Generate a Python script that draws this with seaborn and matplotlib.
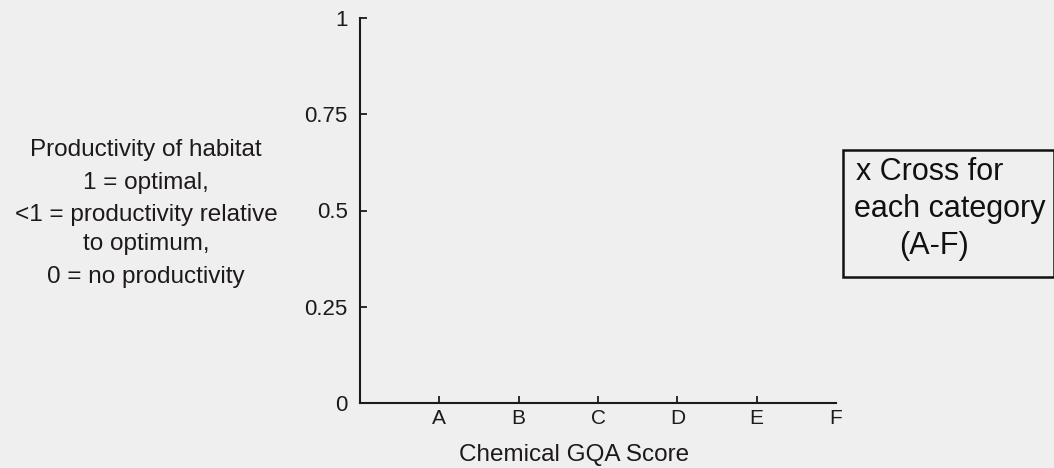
import matplotlib
matplotlib.use("Agg")
import matplotlib.pyplot as plt
from matplotlib.patches import Rectangle
import seaborn as sns
import pandas as pd

# Categories on the x axis and productivity ticks on the y axis
categories = ["A", "B", "C", "D", "E", "F"]
cat_positions = [1, 2, 3, 4, 5, 6]
y_ticks = [0, 0.25, 0.5, 0.75, 1]
y_tick_labels = ["0", "0.25", "0.5", "0.75", "1"]
# Productivity values are left blank for the reader to mark
productivity = [None, None, None, None, None, None]

sns.set_style("ticks")
plt.rcParams["font.family"] = ["Liberation Sans", "DejaVu Sans"]

bg = "#efefef"
ink = "#1e191b"

fig = plt.figure(figsize=(10.54, 4.68), dpi=100, facecolor=bg)
ax = fig.add_axes([360 / 1054, 65 / 468, 476 / 1054, 385 / 468])
ax.set_facecolor(bg)

df = pd.DataFrame({"pos": cat_positions, "score": categories,
                   "productivity": pd.Series(productivity, dtype=float)})
sns.scatterplot(data=df, x="pos", y="productivity", marker="x", color=ink, ax=ax)

ax.set_xlim(0, 6)
ax.set_ylim(0, 1)
ax.set_xticks(cat_positions)
ax.set_xticklabels(categories, fontsize=15, color=ink)
ax.set_yticks(y_ticks)
ax.set_yticklabels(y_tick_labels, fontsize=16, color=ink)
ax.tick_params(axis="both", direction="in", length=5, width=1.3, color=ink, pad=9)
ax.tick_params(axis="x", pad=4)
# The last category sits at the end of the axis without a tick mark
ax.xaxis.get_major_ticks()[-1].tick1line.set_visible(False)
ax.set_xlabel("")
ax.set_ylabel("")
sns.despine(ax=ax)
for side in ("left", "bottom"):
    ax.spines[side].set_color(ink)
    ax.spines[side].set_linewidth(1.5)

fig.text(574 / 1054, 1 - 455 / 468, "Chemical GQA Score", ha="center", va="center",
         fontsize=17.5, color=ink)

ylabel_lines = ["Productivity of habitat", "1 = optimal,", "<1 = productivity relative",
                "to optimum,", "0 = no productivity"]
ylabel_y = [150, 183, 215, 244, 277]
for line, yy in zip(ylabel_lines, ylabel_y):
    fig.text(146 / 1054, 1 - yy / 468, line, ha="center", va="center",
             fontsize=17.5, color=ink)

# Instruction box on the right
fig.patches.append(Rectangle((843 / 1054, 1 - 277 / 468), 0.2, 127 / 468,
                             transform=fig.transFigure, facecolor="none",
                             edgecolor="#111111", linewidth=1.8))
fig.text(856 / 1054, 1 - 172 / 468, "x Cross for", ha="left", va="center",
         fontsize=22, color="#111111")
fig.text(854 / 1054, 1 - 209 / 468, "each category", ha="left", va="center",
         fontsize=22, color="#111111")
fig.text(934 / 1054, 1 - 246 / 468, "(A-F)", ha="center", va="center",
         fontsize=22, color="#111111")

fig.savefig("out.png", dpi=100, facecolor=bg)
